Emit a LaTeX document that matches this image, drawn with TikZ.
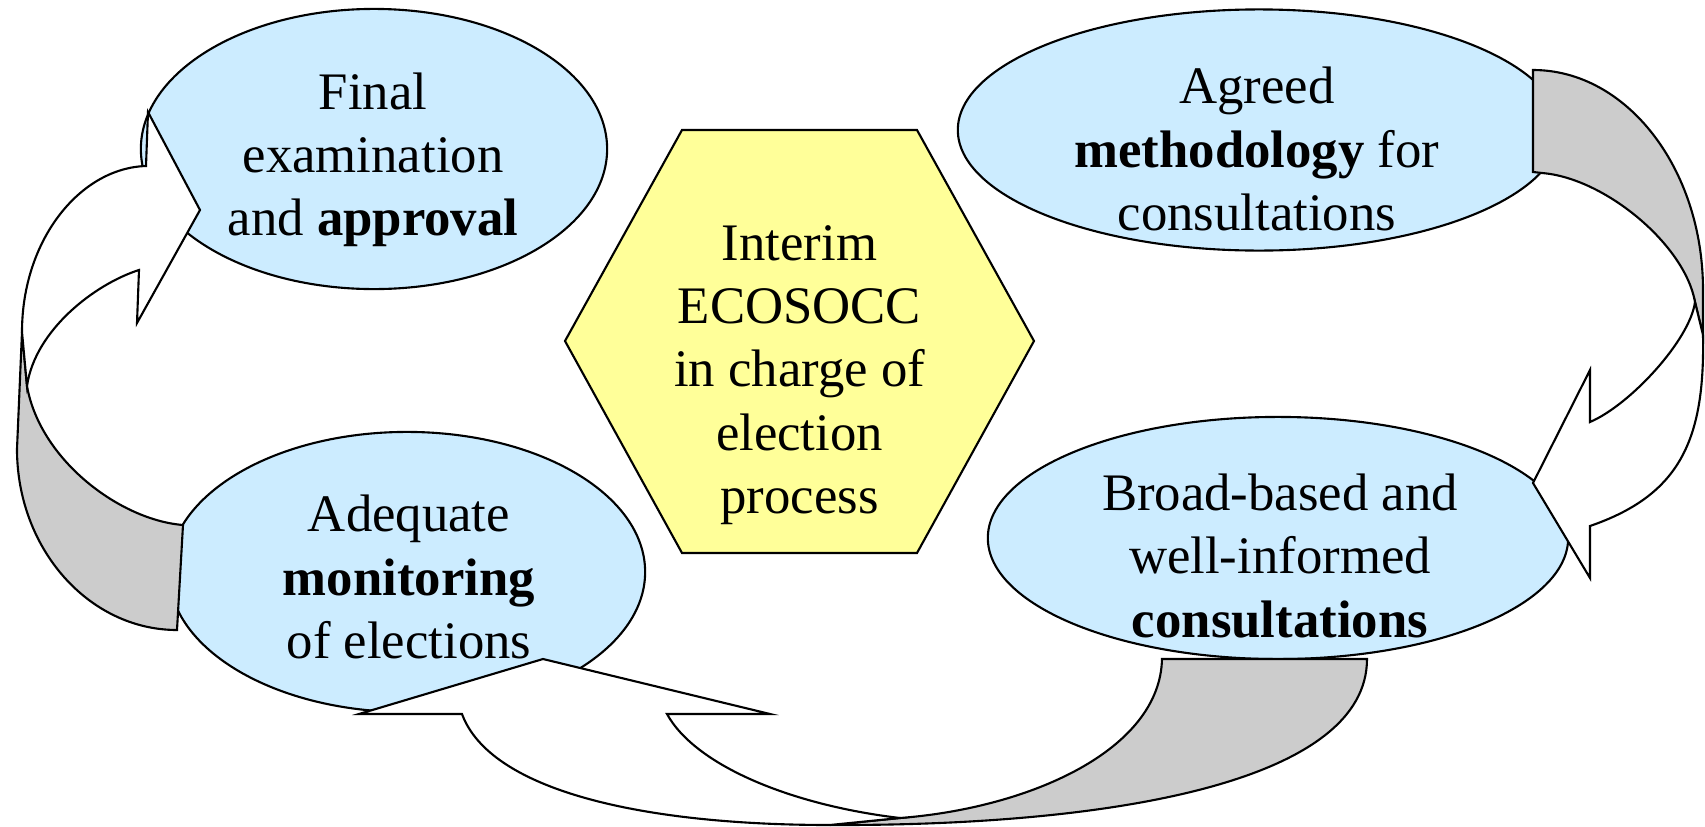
\documentclass[tikz,border=0pt]{standalone}
\usepackage{fontspec}
\setmainfont{Liberation Serif}
\usepackage{xcolor}
\usetikzlibrary{shapes.geometric}
\definecolor{bubble}{HTML}{CCECFF}
\definecolor{hub}{HTML}{FFFF99}
\definecolor{shade}{HTML}{CCCCCC}
\tikzset{
    stage/.style={
        draw,
        ellipse,
        fill=bubble,
        inner sep=0pt
    },
    stage text/.style={
        align=center,
        inner sep=0pt,
        font=\fontsize{15}{18}\selectfont
    },
    front arrow/.style={
        draw,
        fill=white,
        line join=miter
    },
    back arrow/.style={
        draw,
        fill=shade
    }
}
\begin{document}
\begin{tikzpicture}[x=0.01cm,y=-0.01cm,line width=0.6pt]
    \useasboundingbox (0,0) rectangle (1705,827);
    \node[stage,minimum width=4.66cm,minimum height=2.80cm] (A) at (374,149) {};
    \node[stage,minimum width=6.02cm,minimum height=2.41cm] (B) at (1259,130) {};
    \node[stage,minimum width=5.80cm,minimum height=2.42cm] (C) at (1278,538) {};
    \node[stage,minimum width=4.76cm,minimum height=2.80cm] (D) at (407,572) {};
    \draw[fill=hub] (565,341) -- (682,130) -- (917,130) -- (1034,341) -- (917,553) -- (682,553) -- cycle;
    % D up to A
    \draw[back arrow] (22,332) -- (17,449)
        .. controls (17,549) and (89,630) .. (177,630)
        -- (183,525)
        .. controls (120,520) and (40,460) .. (27,386)
        -- cycle;
    \draw[front arrow] (22,332)
        .. controls (22,240) and (80,168) .. (146,166)
        -- (148,112) -- (200,210) -- (137,323) -- (139,270)
        .. controls (95,284) and (35,330) .. (27,386)
        -- cycle;
    % B down to C
    \draw[back arrow] (1533,70)
        .. controls (1627,70) and (1703,169) .. (1703,290)
        -- (1703,335) -- (1695,302)
        .. controls (1685,245) and (1605,178) .. (1542,173)
        -- (1533,172) -- cycle;
    \draw[front arrow] (1703,335)
        .. controls (1705,440) and (1680,495) .. (1590,526)
        -- (1590,578) -- (1533,483) -- (1590,370) -- (1590,422)
        .. controls (1630,405) and (1690,340) .. (1695,302)
        -- cycle;
    % C round to D
    \draw[back arrow] (830,825)
        .. controls (1120,826) and (1367,780) .. (1367,659)
        -- (1162,659)
        .. controls (1160,750) and (1030,808) .. (900,818)
        -- cycle;
    \draw[front arrow] (359,714) -- (543,659) -- (770,714) -- (667,714)
        .. controls (695,765) and (790,805) .. (900,818)
        -- (830,825)
        .. controls (640,825) and (490,790) .. (462,714)
        -- cycle;
    \node[stage text] (A-t) at (373,160) {Final\\examination\\and \textbf{approval}};
    \node[stage text] (B-t) at (1257,149) {Agreed\\\textbf{methodology} for\\consultations};
    \node[stage text] (C-t) at (1280,556) {Broad-based and\\well-informed\\\textbf{consultations}};
    \node[stage text] (D-t) at (409,577) {Adequate\\\textbf{monitoring}\\of elections};
    \node[stage text] (H) at (799.5,375) {Interim\\ECOSOCC\\in charge of\\election\\process};
\end{tikzpicture}
\end{document}
